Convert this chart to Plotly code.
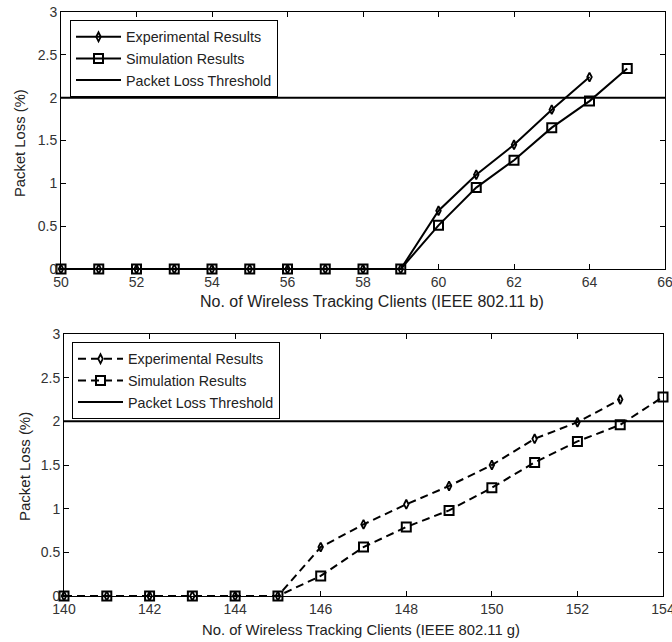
import plotly.graph_objects as go

# ---- data ----
clients_b = [50, 51, 52, 53, 54, 55, 56, 57, 58, 59, 60, 61, 62, 63, 64]
exp_b = [0, 0, 0, 0, 0, 0, 0, 0, 0, 0, 0.68, 1.10, 1.45, 1.86, 2.24]
clients_b_sim = [50, 51, 52, 53, 54, 55, 56, 57, 58, 59, 60, 61, 62, 63, 64, 65]
sim_b = [0, 0, 0, 0, 0, 0, 0, 0, 0, 0, 0.51, 0.95, 1.27, 1.65, 1.96, 2.34]

clients_g = [140, 141, 142, 143, 144, 145, 146, 147, 148, 149, 150, 151, 152, 153]
exp_g = [0, 0, 0, 0, 0, 0, 0.56, 0.82, 1.05, 1.26, 1.50, 1.80, 1.99, 2.25]
clients_g_sim = [140, 141, 142, 143, 144, 145, 146, 147, 148, 149, 150, 151, 152, 153, 154]
sim_g = [0, 0, 0, 0, 0, 0, 0.23, 0.56, 0.79, 0.98, 1.24, 1.53, 1.77, 1.96, 2.28]

threshold = 2.0
range_b = [50, 66]
range_g = [140, 154]
y_range = [0, 3]

xtitle_b = "No. of Wireless Tracking Clients (IEEE 802.11 b)"
xtitle_g = "No. of Wireless Tracking Clients (IEEE 802.11 g)"
ytitle = "Packet Loss (%)"

FONT = "Liberation Sans, Arial, sans-serif"
W, H = 672, 642

fig = go.Figure()

diamond = dict(symbol="diamond-tall-open", size=6.5, color="black", line=dict(width=1.8, color="black"))
square = dict(symbol="square-open", size=9, color="black", line=dict(width=2, color="black"))

# top panel (802.11 b) - solid
fig.add_trace(go.Scatter(x=clients_b, y=exp_b, name="Experimental Results", mode="lines+markers",
                         line=dict(color="black", width=2), marker=diamond,
                         xaxis="x", yaxis="y", legend="legend", cliponaxis=False))
fig.add_trace(go.Scatter(x=clients_b_sim, y=sim_b, name="Simulation Results", mode="lines+markers",
                         line=dict(color="black", width=2), marker=square,
                         xaxis="x", yaxis="y", legend="legend", cliponaxis=False))
fig.add_trace(go.Scatter(x=range_b, y=[threshold, threshold], name="Packet Loss Threshold", mode="lines",
                         line=dict(color="black", width=2),
                         xaxis="x", yaxis="y", legend="legend"))

# bottom panel (802.11 g) - dashed
fig.add_trace(go.Scatter(x=clients_g, y=exp_g, name="Experimental Results", mode="lines+markers",
                         line=dict(color="black", width=2, dash="8px,5px"), marker=diamond,
                         xaxis="x2", yaxis="y2", legend="legend2", cliponaxis=False))
fig.add_trace(go.Scatter(x=clients_g_sim, y=sim_g, name="Simulation Results", mode="lines+markers",
                         line=dict(color="black", width=2, dash="8px,5px"), marker=square,
                         xaxis="x2", yaxis="y2", legend="legend2", cliponaxis=False))
fig.add_trace(go.Scatter(x=range_g, y=[threshold, threshold], name="Packet Loss Threshold", mode="lines",
                         line=dict(color="black", width=2),
                         xaxis="x2", yaxis="y2", legend="legend2"))

axis_common = dict(showgrid=False, zeroline=False, showline=True, linecolor="black", linewidth=1,
                   mirror="ticks", ticks="inside", ticklen=5, tickcolor="black", tickwidth=1,
                   automargin=False, ticklabeloverflow="allow",
                   tickfont=dict(family=FONT, size=14, color="#333333"))

leg_common = dict(xanchor="left", yanchor="top", bgcolor="white", bordercolor="black", borderwidth=1,
                  font=dict(family=FONT, size=14.3, color="#222222"),
                  itemwidth=45, tracegroupgap=0, traceorder="normal")

fig.update_layout(
    template="none",
    width=W, height=H,
    margin=dict(l=0, r=0, t=0, b=0, autoexpand=False),
    paper_bgcolor="white", plot_bgcolor="white",
    showlegend=True,
    xaxis=dict(domain=[61 / W, 665 / W], range=range_b, dtick=2, anchor="y", **axis_common),
    yaxis=dict(domain=[1 - 269 / H, 1 - 12 / H], range=y_range, dtick=0.5, anchor="x", **axis_common),
    xaxis2=dict(domain=[64 / W, 663 / W], range=range_g, dtick=2, anchor="y2", **axis_common),
    yaxis2=dict(domain=[1 - 596 / H, 1 - 334 / H], range=y_range, dtick=0.5, anchor="x2", **axis_common),
    legend=dict(x=70 / W, y=1 - 20 / H, **leg_common),
    legend2=dict(x=72 / W, y=1 - 342 / H, **leg_common),
)

# axis titles
fig.add_annotation(text=xtitle_b, xref="paper", yref="paper", x=372 / W, y=1 - 302 / H,
                   xanchor="center", yanchor="middle", showarrow=False,
                   font=dict(family=FONT, size=16, color="#222222"))
fig.add_annotation(text=xtitle_g, xref="paper", yref="paper", x=361 / W, y=1 - 630 / H,
                   xanchor="center", yanchor="middle", showarrow=False,
                   font=dict(family=FONT, size=14.8, color="#222222"))
fig.add_annotation(text=ytitle, xref="paper", yref="paper", x=20 / W, y=1 - 143 / H,
                   xanchor="center", yanchor="middle", showarrow=False, textangle=-90,
                   font=dict(family=FONT, size=14.8, color="#222222"))
fig.add_annotation(text=ytitle, xref="paper", yref="paper", x=24 / W, y=1 - 467 / H,
                   xanchor="center", yanchor="middle", showarrow=False, textangle=-90,
                   font=dict(family=FONT, size=15, color="#222222"))

fig.write_html("out.html", config={"displayModeBar": False},
               post_script="document.body.style.margin='0';")
